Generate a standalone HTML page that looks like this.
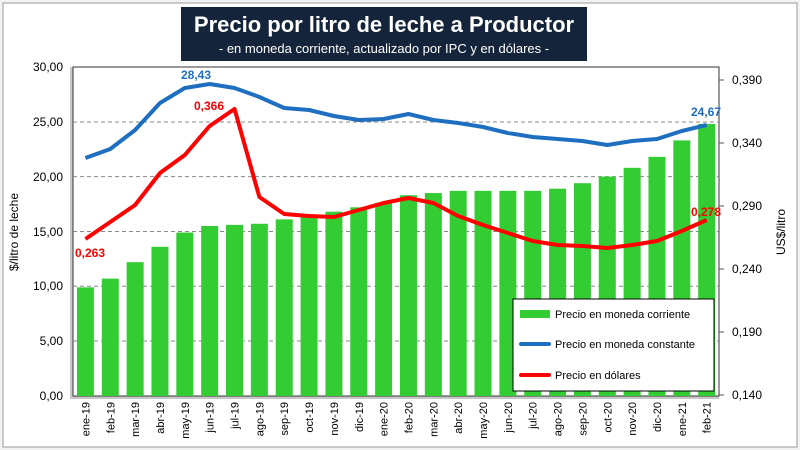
<!DOCTYPE html>
<html><head><meta charset="utf-8"><style>
body{margin:0;background:#fff;}
svg{display:block;font-family:"Liberation Sans",sans-serif;}
</style></head><body>
<svg width="800" height="450" viewBox="0 0 800 450" xmlns="http://www.w3.org/2000/svg">
<rect x="0" y="0" width="800" height="450" fill="#f2f2f2"/>
<rect x="3" y="3" width="794" height="444" fill="#fff" stroke="#9a9a9a" stroke-width="1"/>
<!-- title -->
<rect x="181" y="7" width="406" height="54" fill="#14243a"/>
<text x="384" y="32" font-size="22" font-weight="bold" fill="#fff" text-anchor="middle">Precio por litro de leche a Productor</text>
<text x="384" y="53" font-size="13" fill="#fff" text-anchor="middle">- en moneda corriente, actualizado por IPC y en dólares -</text>
<!-- plot shadow/frame -->
<rect x="70" y="67" width="649" height="332" fill="#c8c8c8"/>
<rect x="73" y="67" width="646" height="329" fill="#fff" stroke="#333" stroke-width="1"/>
<g stroke="#888" stroke-dasharray="4,3" stroke-width="1">
<line x1="73" x2="719" y1="122" y2="122"/><line x1="73" x2="719" y1="176.6" y2="176.6"/>
<line x1="73" x2="719" y1="231.5" y2="231.5"/><line x1="73" x2="719" y1="286.3" y2="286.3"/>
<line x1="73" x2="719" y1="341" y2="341"/>
</g>
<g id="bars" fill="#33cc33"></g>
<g id="xl" font-size="11" fill="#000"></g>
<g font-size="12" fill="#000" text-anchor="end">
<text x="63" y="71">30,00</text><text x="63" y="126">25,00</text><text x="63" y="181">20,00</text>
<text x="63" y="236">15,00</text><text x="63" y="290">10,00</text><text x="63" y="345">5,00</text><text x="63" y="400">0,00</text>
</g>
<g font-size="12" fill="#000">
<text x="732" y="84">0,390</text><text x="732" y="147">0,340</text><text x="732" y="210">0,290</text>
<text x="732" y="273">0,240</text><text x="732" y="336">0,190</text><text x="732" y="399">0,140</text>
</g>
<g stroke="#555"><line x1="719" x2="724" y1="80" y2="80"/><line x1="719" x2="724" y1="143" y2="143"/><line x1="719" x2="724" y1="206" y2="206"/><line x1="719" x2="724" y1="269" y2="269"/><line x1="719" x2="724" y1="332" y2="332"/><line x1="719" x2="724" y1="395" y2="395"/></g>
<text transform="translate(18,232) rotate(-90)" font-size="12" text-anchor="middle">$/litro de leche</text>
<text transform="translate(785,232) rotate(-90)" font-size="12" text-anchor="middle">US$/litro</text>
<polyline id="blue" fill="none" stroke="#1f6fc0" stroke-width="4" stroke-linejoin="round"/>
<polyline id="red" fill="none" stroke="#ff0000" stroke-width="4" stroke-linejoin="round"/>
<g font-size="12" font-weight="bold">
<text x="196" y="79" fill="#1f6fc0" text-anchor="middle">28,43</text>
<text x="706" y="116" fill="#1f6fc0" text-anchor="middle">24,67</text>
<text x="209" y="110" fill="#ff0000" text-anchor="middle">0,366</text>
<text x="90" y="257" fill="#ff0000" text-anchor="middle">0,263</text>
<text x="706" y="216" fill="#ff0000" text-anchor="middle">0,278</text>
</g>
<!-- legend -->
<rect x="513" y="299" width="201" height="92" fill="#fff" stroke="#000" stroke-width="1"/>
<rect x="520" y="310" width="30" height="8" fill="#33cc33"/>
<line x1="521" x2="549" y1="344" y2="344" stroke="#1f6fc0" stroke-width="4" stroke-linecap="round"/>
<line x1="521" x2="549" y1="375" y2="375" stroke="#ff0000" stroke-width="4" stroke-linecap="round"/>
<g font-size="11"><text x="555" y="318">Precio en moneda corriente</text><text x="555" y="348">Precio en moneda constante</text><text x="555" y="379">Precio en dólares</text></g>
<script>
var labels=["ene-19","feb-19","mar-19","abr-19","may-19","jun-19","jul-19","ago-19","sep-19","oct-19","nov-19","dic-19","ene-20","feb-20","mar-20","abr-20","may-20","jun-20","jul-20","ago-20","sep-20","oct-20","nov-20","dic-20","ene-21","feb-21"];
var vals=[9.9,10.7,12.2,13.6,14.9,15.5,15.6,15.7,16.1,16.5,16.8,17.2,17.6,18.3,18.5,18.7,18.7,18.7,18.7,18.9,19.4,20.0,20.8,21.8,23.3,24.8];
var blue=[158,149,130,103,88,84,88,97,108,110,116,120,119,114,120,123,127,133,137,139,141,145,141,139,131,125];
var red=[239,222,205,173,155,126,109,197,214,216,217,210,203,198,203,216,225,233,241,245,246,248,245,241,231,220];
var ns="http://www.w3.org/2000/svg",bg=document.getElementById("bars"),xl=document.getElementById("xl");
var bp=[],rp=[];
for(var i=0;i<26;i++){var cx=73+(i+0.5)*24.85;var h=vals[i]*10.97;
var r=document.createElementNS(ns,"rect");r.setAttribute("x",cx-8.5);r.setAttribute("y",396-h);r.setAttribute("width",17);r.setAttribute("height",h);bg.appendChild(r);
var t=document.createElementNS(ns,"text");t.setAttribute("transform","translate("+(cx+4)+",402) rotate(-90)");t.setAttribute("text-anchor","end");t.textContent=labels[i];xl.appendChild(t);
bp.push(cx+","+blue[i]);rp.push(cx+","+red[i]);}
document.getElementById("blue").setAttribute("points",bp.join(" "));
document.getElementById("red").setAttribute("points",rp.join(" "));
</script>
</svg>
</body></html>
